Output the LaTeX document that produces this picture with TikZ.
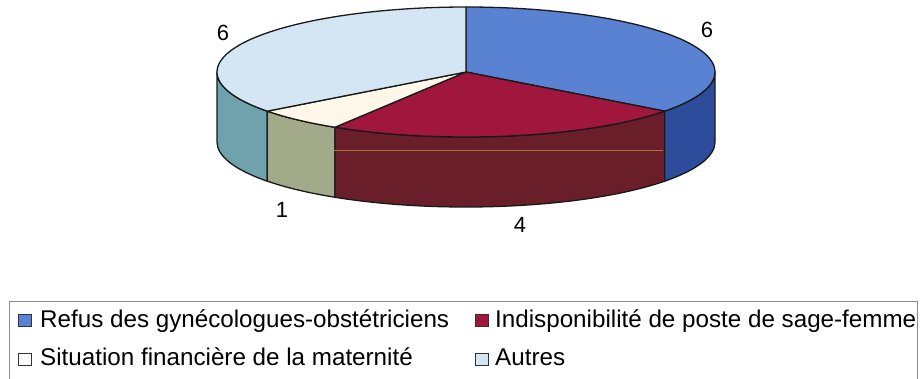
\documentclass[tikz,border=0pt]{standalone}
\usepackage{fontspec}
\setmainfont{Liberation Sans}
\usetikzlibrary{calc}
\definecolor{topblue}{HTML}{5A82D2}
\definecolor{sideblue}{HTML}{2D4C9C}
\definecolor{topred}{HTML}{A0163C}
\definecolor{sidered}{HTML}{6A1E2A}
\definecolor{topcream}{HTML}{FFF8EA}
\definecolor{sideolive}{HTML}{A3AA8A}
\definecolor{toplight}{HTML}{D4E5F4}
\definecolor{sideteal}{HTML}{6FA2AC}
\definecolor{legborder}{HTML}{8A8A8A}
\definecolor{scanline}{HTML}{9C7A3A}
\begin{document}
\begin{tikzpicture}[x=1pt,y=1pt,
  face/.style={draw=black!90,line width=1.3pt,line join=round},
  lbl/.style={font=\fontsize{22}{26}\selectfont,inner sep=0pt},
  legtext/.style={font=\fontsize{24.2}{28}\selectfont,anchor=base west,inner sep=0pt},
  legsq/.style={draw=black!80,line width=0.8pt,minimum size=12.5pt,inner sep=0pt,anchor=south west}]
\useasboundingbox (0,0) rectangle (921,-378);
\fill[white] (0,0) rectangle (921,-378);
% pie geometry
\def\rx{249}\def\ry{65}\def\dep{70}
\coordinate (C) at (466,-72);
\def\aA{-37.06}\def\aB{-121.76}\def\aC{-142.94}
% side faces
\path[face,fill=sideteal] ($(C)+(180:\rx pt and \ry pt)$) coordinate (s0)
  arc[start angle=180,end angle=217.06,x radius=\rx,y radius=\ry] -- ++(0,-\dep)
  arc[start angle=217.06,end angle=180,x radius=\rx,y radius=\ry] -- cycle;
\path[face,fill=sideolive] ($(C)+(217.06:\rx pt and \ry pt)$)
  arc[start angle=217.06,end angle=238.24,x radius=\rx,y radius=\ry] -- ++(0,-\dep)
  arc[start angle=238.24,end angle=217.06,x radius=\rx,y radius=\ry] -- cycle;
\path[face,fill=sidered] ($(C)+(238.24:\rx pt and \ry pt)$)
  arc[start angle=238.24,end angle=322.94,x radius=\rx,y radius=\ry] -- ++(0,-\dep)
  arc[start angle=322.94,end angle=238.24,x radius=\rx,y radius=\ry] -- cycle;
\path[face,fill=sideblue] ($(C)+(322.94:\rx pt and \ry pt)$)
  arc[start angle=322.94,end angle=360,x radius=\rx,y radius=\ry] -- ++(0,-\dep)
  arc[start angle=360,end angle=322.94,x radius=\rx,y radius=\ry] -- cycle;
% scan line across red side
\draw[scanline,line width=0.8pt] (334,-150) -- (663,-150);
% top faces
\path[face,fill=topblue] (C) -- ($(C)+(90:\rx pt and \ry pt)$)
  arc[start angle=90,end angle=\aA,x radius=\rx,y radius=\ry] -- cycle;
\path[face,fill=topred] (C) -- ($(C)+(\aA:\rx pt and \ry pt)$)
  arc[start angle=\aA,end angle=\aB,x radius=\rx,y radius=\ry] -- cycle;
\path[face,fill=topcream] (C) -- ($(C)+(\aB:\rx pt and \ry pt)$)
  arc[start angle=\aB,end angle=\aC,x radius=\rx,y radius=\ry] -- cycle;
\path[face,fill=toplight] (C) -- ($(C)+(\aC:\rx pt and \ry pt)$)
  arc[start angle=\aC,end angle=-270,x radius=\rx,y radius=\ry] -- cycle;
% value labels
\node[lbl] (vAutres) at (223,-33) {6};
\node[lbl] (vRefus) at (707,-30) {6};
\node[lbl] (vSit) at (282,-210) {1};
\node[lbl] (vIndis) at (520,-225) {4};
% legend
\draw[legborder,line width=1pt] (9,-301) rectangle (917,-395);
\node[legsq,fill=topblue] (sq1) at (18,-327) {};
\node[legtext] (t1) at (40,-327) {Refus des gynécologues-obstétriciens};
\node[legsq,fill=topred] (sq2) at (475,-327) {};
\node[legtext] (t2) at (495,-327) {Indisponibilité de poste de sage-femme};
\node[legsq,fill=white] (sq3) at (18,-366) {};
\node[legtext] (t3) at (40,-365) {Situation financière de la maternité};
\node[legsq,fill=toplight] (sq4) at (475,-366) {};
\node[legtext] (t4) at (495,-365) {Autres};
\end{tikzpicture}
\end{document}
